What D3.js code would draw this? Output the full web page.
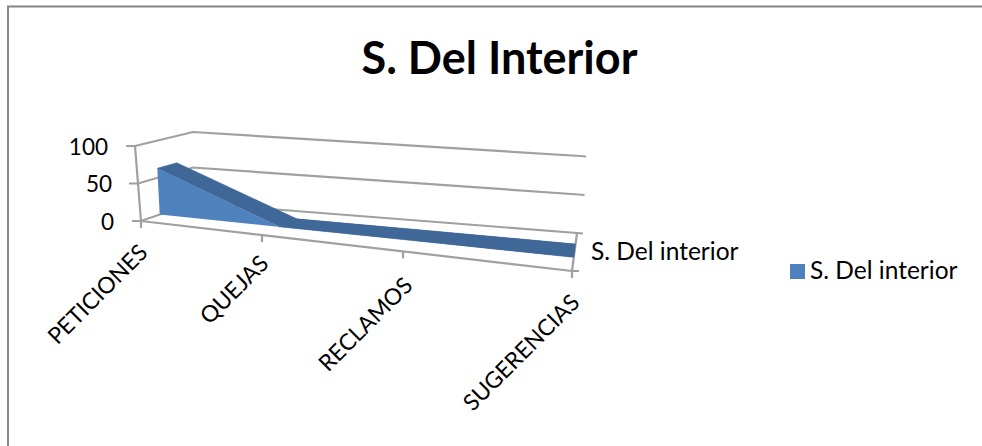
<!DOCTYPE html>
<html><head><meta charset="utf-8">
<script src="https://cdnjs.cloudflare.com/ajax/libs/d3/7.8.5/d3.min.js"></script>
<style>html,body{margin:0;padding:0;background:#fff}svg{display:block}text{font-family:Lato,"Open Sans",sans-serif;fill:#000}</style>
</head><body><svg id="c" width="982" height="446"></svg>
<script>
const title = "S. Del Interior";
const seriesName = "S. Del interior";
const categories = ["PETICIONES","QUEJAS","RECLAMOS","SUGERENCIAS"];
const values = [63,0,0,0];
const yTicks = [0,50,100];

const gridColor = "#a0a0a0", frontColor = "#4f81bd", topColor = "#3f6797";
const svg = d3.select("#c");
const idx = categories.map((_,i)=>i);

// Oblique projection of the 3-D box, built from scales
const frontX = d3.scaleLinear().domain(idx).range([141,262,403,572]);
const backX  = d3.scaleLinear().domain(idx).range([193,311,445,577]);
const frontY = d3.scaleLinear().domain([141,572]).range([221,271]);
const backY  = d3.scaleLinear().domain([193,577]).range([203,233]);
const leanX  = d3.scaleLinear().domain([0,3]);
const v100 = {fx:[-6,5], bx:[0,3], fy:[75,77], by:[71,77]};
const valFrac = d3.scaleLinear().domain([0,100]).range([0,1]);
function project(u,v,d){
  const fx=frontX(u), bx=backX(u), fy=frontY(fx), by=backY(bx);
  const lx=d3.interpolateNumber(
    leanX.range(v100.fx)(u), leanX.range(v100.bx)(u))(d);
  const ly=d3.interpolateNumber(
    leanX.range(v100.fy)(u), leanX.range(v100.by)(u))(d);
  const f=valFrac(v);
  return [fx+(bx-fx)*d+lx*f, fy+(by-fy)*d-ly*f];
}
const line=d3.line();
const last=idx[idx.length-1];

// Chart frame
svg.append("path").attr("d",line([[982,6.5],[8,6.5],[8,446]]))
  .attr("fill","none").attr("stroke","#868686").attr("stroke-width",2);

svg.append("text").attr("x",499.5).attr("y",74).attr("text-anchor","middle")
  .attr("font-size",45).attr("font-weight",700).text(title);

const grid=svg.append("g").attr("fill","none").attr("stroke",gridColor).attr("stroke-width",2.2);
// Gridlines on side and back walls, with y ticks
yTicks.forEach(t=>{
  const a=project(0,t,0), b=project(0,t,1), c=project(last,t,1);
  grid.append("path").attr("d",line([[a[0]-9,a[1]],a,b,c,[c[0]+6,c[1]+0.5]]));
});
// Vertical axis
grid.append("path").attr("d",line([project(0,0,0),project(0,100,0)]));
// Floor front edge and right edge, x ticks
const fr=project(last,0,0), br=project(last,0,1);
grid.append("path").attr("d",line([project(0,0,0),fr,[fr[0]+7,fr[1]]]));
grid.append("path").attr("d",line([fr,br]));
idx.forEach(i=>{
  const p=project(i,0,0);
  grid.append("path").attr("d",line([p,[p[0],p[1]+7]]));
});

// 3-D area series
const d1=0.36,d2=0.71;
const marks=svg.append("g");
idx.slice(0,-1).forEach(i=>{
  marks.append("path").attr("fill",topColor).attr("stroke",topColor).attr("stroke-width",0.5)
    .attr("d",line([project(i,values[i],d1),project(i,values[i],d2),project(i+1,values[i+1],d2),project(i+1,values[i+1],d1)])+"Z");
});
marks.append("path").attr("fill",frontColor)
  .attr("d",line([project(0,0,d1),...idx.map(i=>project(i,values[i],d1)),project(last,0,d1)])+"Z");
idx.slice(1,-1).forEach(i=>{
  marks.append("path").attr("fill",topColor)
    .attr("d",line([project(i,values[i],d1),project(i,values[i],d2),project(i+1,values[i+1],d2),project(i+1,values[i+1],d1)])+"Z");
});

// Y labels
const yLabelRight={0:114,50:112,100:108};
yTicks.forEach(t=>{
  const a=project(0,t,0);
  svg.append("text").attr("x",yLabelRight[t]).attr("y",a[1]+8.5).attr("text-anchor","end")
    .attr("font-size",22.5).text(t);
});

// Category labels, rotated
const labelEnd=[[149,254],[270,265],[414,287],[581,304]];
categories.forEach((c,i)=>{
  svg.append("text").attr("text-anchor","end").attr("font-size",22.8)
    .attr("transform",`translate(${labelEnd[i][0]},${labelEnd[i][1]}) rotate(-45)`).text(c);
});

// Depth axis label
svg.append("text").attr("x",591).attr("y",260).attr("font-size",24.5).text(seriesName);

// Legend
svg.append("rect").attr("x",790).attr("y",264).attr("width",15).attr("height",15).attr("fill",frontColor);
svg.append("text").attr("x",810).attr("y",279).attr("font-size",24.5).text(seriesName);
</script></body></html>
